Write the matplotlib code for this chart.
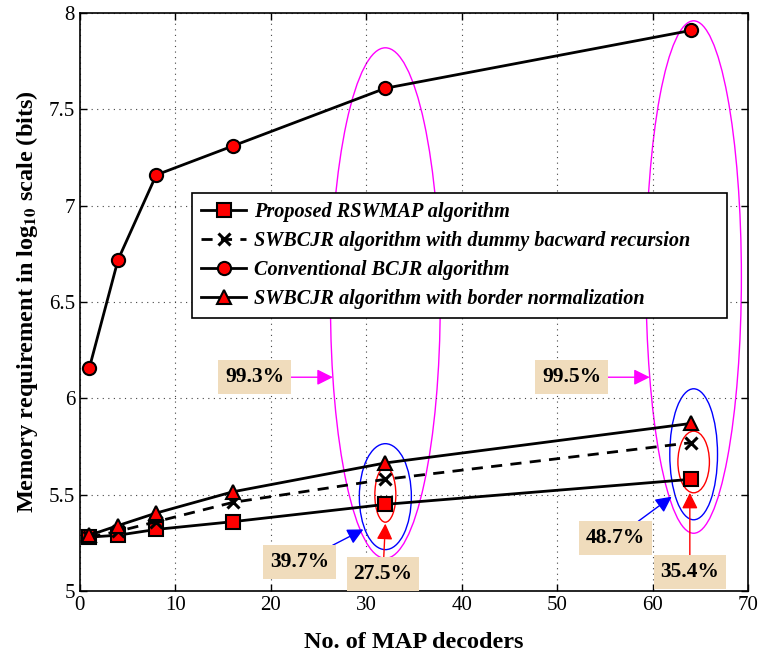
import matplotlib
matplotlib.use("Agg")
import matplotlib.pyplot as plt
from matplotlib.patches import Ellipse

# data
decoders = [1, 4, 8, 16, 32, 64]
rswmap = [5.28, 5.29, 5.32, 5.36, 5.45, 5.58]
swbcjr_dummy = [5.28, 5.31, 5.36, 5.46, 5.58, 5.77]
bcjr = [6.16, 6.72, 7.16, 7.31, 7.61, 7.91]
swbcjr_border = [5.29, 5.34, 5.405, 5.515, 5.665, 5.87]

labels = ["Proposed RSWMAP algorithm",
          "SWBCJR algorithm with dummy bacward recursion",
          "Conventional BCJR algorithm",
          "SWBCJR algorithm with border normalization"]

plt.rcParams['font.family'] = ['Liberation Serif', 'DejaVu Serif']
plt.rcParams['mathtext.fontset'] = 'stix'

BOX = '#f0dcbc'

fig = plt.figure(figsize=(7.61, 6.56), dpi=100)
ax = fig.add_axes([0.105, 0.099, 0.878, 0.881])

mk = dict(markerfacecolor='red', markeredgecolor='black', markeredgewidth=1.5,
          markersize=9.5, color='black', linewidth=2)
ax.plot(decoders, rswmap, marker='s', label=labels[0], **mk)
ax.plot(decoders, swbcjr_dummy, linestyle=(0, (4, 3)), marker='x', color='black',
        markersize=8, markeredgewidth=2.2, linewidth=2, label=labels[1])
ax.plot(decoders, bcjr, marker='o', label=labels[2], **mk)
ax.plot(decoders, swbcjr_border, marker='^', label=labels[3], **mk)

# ellipses around the 32 and 64 decoder points
ax.add_patch(Ellipse((32, 6.495), 11.5, 2.65, fill=False, edgecolor='magenta', lw=1))
ax.add_patch(Ellipse((64.3, 6.63), 10.0, 2.66, fill=False, edgecolor='magenta', lw=1))
ax.add_patch(Ellipse((32, 5.49), 5.45, 0.55, fill=False, edgecolor='blue', lw=1))
ax.add_patch(Ellipse((64.3, 5.71), 5.0, 0.68, fill=False, edgecolor='blue', lw=1))
ax.add_patch(Ellipse((32, 5.50), 2.2, 0.285, fill=False, edgecolor='red', lw=1))
ax.add_patch(Ellipse((64.3, 5.67), 3.3, 0.32, fill=False, edgecolor='red', lw=1))

def note(text, xy, xytext, color):
    ax.annotate(text, xy=xy, xytext=xytext, fontsize=15.5, fontweight='bold',
                ha='center', va='center',
                bbox=dict(boxstyle='square,pad=0.32', facecolor=BOX, edgecolor='none'),
                arrowprops=dict(arrowstyle='-|>', color=color, lw=1,
                                mutation_scale=24, shrinkA=0, shrinkB=0))

note("99.3%", (26.5, 6.11), (18.3, 6.11), 'magenta')
note("99.5%", (59.7, 6.11), (51.5, 6.11), 'magenta')
note("39.7%", (29.7, 5.32), (23.05, 5.15), 'blue')
note("27.5%", (32, 5.35), (31.75, 5.09), 'red')
note("48.7%", (62.0, 5.49), (56.1, 5.275), 'blue')
note("35.4%", (63.9, 5.51), (63.9, 5.10), 'red')

ax.set_xlim(0, 70)
ax.set_ylim(5, 8)
ax.set_xticks(range(0, 71, 10))
ax.set_yticks([5, 5.5, 6, 6.5, 7, 7.5, 8])
ax.set_yticklabels(['5', '5.5', '6', '6.5', '7', '7.5', '8'])
ax.tick_params(direction='in', top=True, right=True, labelsize=15, length=5, width=1)
ax.grid(True, linestyle=(0, (1, 4)), color='#444444', linewidth=0.8)
for s in ax.spines.values():
    s.set_linewidth(1.2)

ax.set_xlabel("No. of MAP decoders", fontsize=17.5, fontweight='bold', labelpad=12)
ax.set_ylabel(r"Memory requirement in log$_{\mathbf{10}}$ scale (bits)", fontsize=17.5,
              fontweight='bold', labelpad=6)

leg = ax.legend(loc='upper left', bbox_to_anchor=(0.168, 0.472, 0.801, 0.217),
                mode='expand', borderaxespad=0,
                prop=dict(size=14.6, weight='bold', style='italic'),
                fancybox=False, framealpha=1, edgecolor='black',
                handlelength=2.2, borderpad=0.45, labelspacing=0.45, handletextpad=0.4)
leg.get_frame().set_linewidth(1.2)

fig.savefig("out.png", dpi=100)
